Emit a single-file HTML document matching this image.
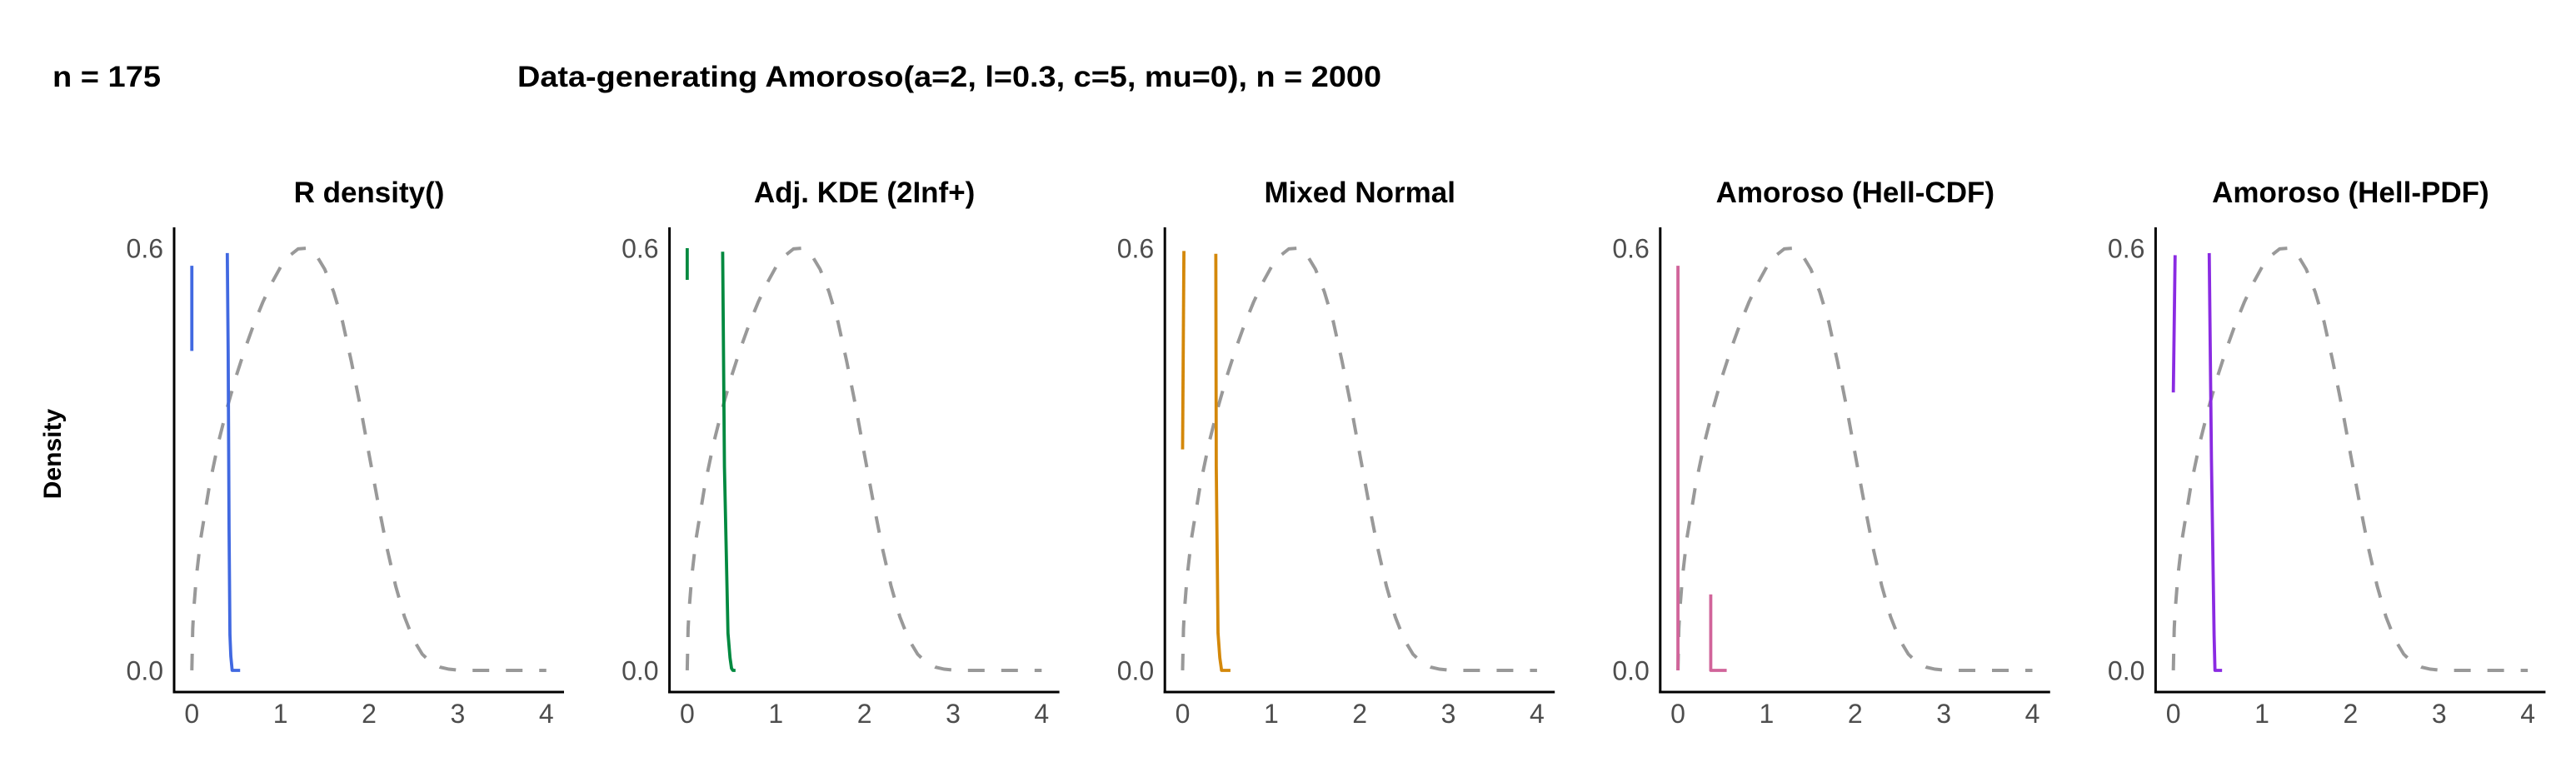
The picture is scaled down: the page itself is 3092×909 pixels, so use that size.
<!DOCTYPE html>
<html><head><meta charset="utf-8">
<style>
html,body{margin:0;padding:0;background:#fff;}
svg{display:block;}
text{font-family:"Liberation Sans",Arial,sans-serif;}
</style></head>
<body>
<svg id="fig" width="3092" height="909" viewBox="0 0 3092 909" xmlns="http://www.w3.org/2000/svg">
<text x="63" y="104" font-size="35" font-weight="bold" textLength="130" lengthAdjust="spacingAndGlyphs">n = 175</text>
<text x="621" y="104" font-size="35" font-weight="bold" textLength="1037" lengthAdjust="spacingAndGlyphs">Data-generating Amoroso(a=2, l=0.3, c=5, mu=0), n = 2000</text>
<text x="0" y="0" transform="translate(73,545) rotate(-90)" text-anchor="middle" font-size="30" font-weight="bold">Density</text>
<g id="panels"></g>
</svg>
<script>
// true density (dashed gray)
const trueX = [0,0.01,0.02,0.05,0.1,0.2,0.3,0.4,0.5,0.6,0.7,0.8,0.9,1.0,1.1,1.2,1.3,1.4,1.5,1.6,1.7,1.8,1.9,2.0,2.1,2.2,2.3,2.4,2.5,2.6,2.7,2.8,2.9,3.0,3.1,3.5,4.0];
const trueY = [0,0.059,0.084,0.132,0.187,0.264,0.324,0.374,0.418,0.457,0.492,0.523,0.550,0.573,0.589,0.599,0.600,0.591,0.570,0.538,0.496,0.439,0.376,0.307,0.239,0.175,0.120,0.076,0.044,0.023,0.011,0.0046,0.0017,0.0004,0,0,0];
const panelTitles = ["R density()","Adj. KDE (2Inf+)","Mixed Normal","Amoroso (Hell-CDF)","Amoroso (Hell-PDF)"];
const panelColors = ["#4169E1","#00893F","#D4880A","#D1649A","#8A2BE2"];
// estimated curves: each panel has two segments
const estSeg1X = [[0,0],[0,0],[0.015,0],[0,0],[0.02,0]];
const estSeg1Y = [[0.575,0.454],[0.6,0.555],[0.596,0.314],[0.575,0],[0.59,0.395]];
const estSeg2X = [
  [0.40,0.41,0.42,0.43,0.44,0.455,0.545],
  [0.40,0.42,0.46,0.483,0.50,0.515,0.545],
  [0.375,0.38,0.40,0.42,0.44,0.54],
  [0.37,0.37,0.55],
  [0.405,0.43,0.46,0.47,0.55]
];
const estSeg2Y = [
  [0.593,0.45,0.2,0.05,0.02,0,0],
  [0.595,0.29,0.053,0.018,0.003,0,0],
  [0.592,0.29,0.053,0.018,0,0],
  [0.108,0,0],
  [0.593,0.3,0.05,0,0]
];
const xTicks = [0,1,2,3,4];
const yTicks = [0,0.6];
const yTickLabels = ["0.0","0.6"];

const NS="http://www.w3.org/2000/svg";
const root=document.getElementById('panels');
const AX0=209, STEP=594.6, W=468, Y_TOP=273, Y_BOT=831;
const XMIN=-0.2, XMAX=4.2, YMIN=-0.0308, YMAX=0.6296;
function mk(tag,attrs,parent){const e=document.createElementNS(NS,tag);for(const k in attrs)e.setAttribute(k,attrs[k]);parent.appendChild(e);return e;}
function pathFrom(xs,ys,sx,sy){return xs.map((x,i)=>(i?'L':'M')+sx(x).toFixed(2)+','+sy(ys[i]).toFixed(2)).join(' ');}

panelTitles.forEach((title,p)=>{
  const left=AX0+STEP*p;
  const sx=v=>left+(v-XMIN)/(XMAX-XMIN)*W;
  const sy=v=>Y_BOT-(v-YMIN)/(YMAX-YMIN)*(Y_BOT-Y_TOP);
  const g=mk('g',{},root);
  
  
  const t=mk('text',{x:left+W/2,y:243,'text-anchor':'middle','font-size':35,'font-weight':'bold'},g);
  t.textContent=title;
  
  
  const ya=mk('line',{x1:left,y1:Y_TOP,x2:left,y2:Y_BOT+1.5,stroke:'#000','stroke-width':3},g);
  
  
  const xa=mk('line',{x1:left-1.5,y1:Y_BOT,x2:left+W,y2:Y_BOT,stroke:'#000','stroke-width':3},g);
  
  
  yTicks.forEach((v,i)=>{
    const tl=mk('text',{x:left-13,y:sy(v)+11.5,'text-anchor':'end','font-size':32,fill:'#4d4d4d'},g);
    tl.textContent=yTickLabels[i];
    
    
  });
  xTicks.forEach(v=>{
    const tl=mk('text',{x:sx(v),y:868,'text-anchor':'middle','font-size':32,fill:'#4d4d4d'},g);
    tl.textContent=String(v);
    
    
  });
  const tp=mk('path',{d:pathFrom(trueX,trueY,sx,sy),fill:'none',stroke:'#999999','stroke-width':4,'stroke-dasharray':'20 20'},g);
  
  
  const s1=mk('path',{d:pathFrom(estSeg1X[p],estSeg1Y[p],sx,sy),fill:'none',stroke:panelColors[p],'stroke-width':3.8},g);
  
  
  const s2=mk('path',{d:pathFrom(estSeg2X[p],estSeg2Y[p],sx,sy),fill:'none',stroke:panelColors[p],'stroke-width':3.8,'stroke-linejoin':'round'},g);
  
  
});
</script>
</body></html>
